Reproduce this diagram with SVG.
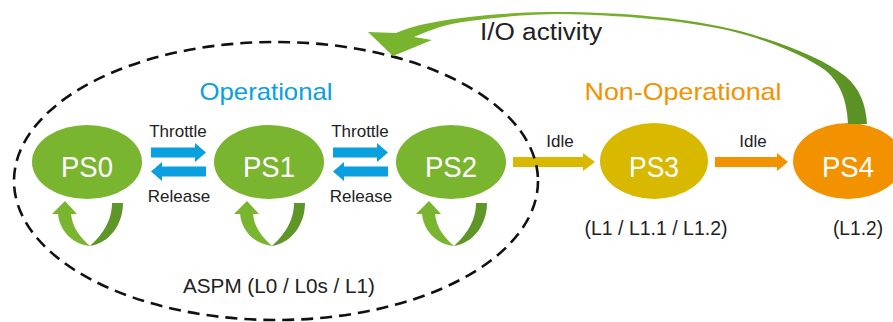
<svg xmlns="http://www.w3.org/2000/svg" xmlns:xlink="http://www.w3.org/1999/xlink" width="893" height="322" viewBox="0 0 893 322">
<style>
text{font-family:"Liberation Sans",Arial,sans-serif}
.ps{fill:#fff;font-size:30px;text-anchor:middle}
.lbl{fill:#222;font-size:17px;text-anchor:middle}
.sub{fill:#222;font-size:21px;text-anchor:middle}
.g{fill:#7ab52f}
.blue{fill:#0aa0e0}
</style>
<defs>
<linearGradient id="ioGrad" gradientUnits="userSpaceOnUse" x1="370" y1="0" x2="870" y2="0">
<stop offset="0" stop-color="#7ab52f"/>
<stop offset="0.6" stop-color="#74ad2c"/>
<stop offset="1" stop-color="#5a8f25"/>
</linearGradient>
<path id="bArrow" d="M0,-5 H44 V-9.5 L55,0 L44,9.5 V5 H0 Z"/>
<g id="loop">
<path d="M-29,213 C-28,230 -15,244 3,246 C-6,238 -15,228 -16,213 Z" fill="#7ab52f"/>
<path d="M-35,214 L-22,201 L-10,214 Z" fill="#7ab52f"/>
<path d="M25,203 L36,203 C36,225 22,243 3,246 C14,236 25,222 25,203 Z" fill="#5e9628"/>
</g>
</defs>

<g id="PS0">
<ellipse cx="87" cy="162" rx="55" ry="37" class="g"/>
<text x="87" y="177" class="ps" textLength="52" lengthAdjust="spacingAndGlyphs">PS0</text>
</g>
<g id="PS1">
<ellipse cx="269" cy="162" rx="55" ry="37" class="g"/>
<text x="269" y="177" class="ps" textLength="52" lengthAdjust="spacingAndGlyphs">PS1</text>
</g>
<g id="PS2">
<ellipse cx="451" cy="162" rx="55" ry="37" class="g"/>
<text x="451" y="177" class="ps" textLength="52" lengthAdjust="spacingAndGlyphs">PS2</text>
</g>
<g id="PS3">
<ellipse cx="654" cy="161" rx="54" ry="38" fill="#d9b800"/>
<text x="654" y="177" class="ps" textLength="50" lengthAdjust="spacingAndGlyphs">PS3</text>
<text x="656" y="235" class="sub" textLength="143" lengthAdjust="spacingAndGlyphs">(L1 / L1.1 / L1.2)</text>
</g>
<g id="PS4">
<ellipse cx="848" cy="161" rx="55" ry="38" fill="#f39200"/>
<text x="848" y="177" class="ps" textLength="52" lengthAdjust="spacingAndGlyphs">PS4</text>
<text x="858" y="235" class="sub" textLength="50" lengthAdjust="spacingAndGlyphs">(L1.2)</text>
</g>

<g id="labels">
<text x="266" y="100" fill="#0aa0e0" font-size="24" text-anchor="middle" textLength="133" lengthAdjust="spacingAndGlyphs">Operational</text>
<text x="683" y="100" fill="#f39200" font-size="24" text-anchor="middle" textLength="197" lengthAdjust="spacingAndGlyphs">Non-Operational</text>
<text x="279" y="293" class="sub" textLength="192" lengthAdjust="spacingAndGlyphs">ASPM (L0 / L0s / L1)</text>
</g>

<g id="connectors">
<use xlink:href="#bArrow" href="#bArrow" class="blue" transform="translate(151,152.5)"/>
<use xlink:href="#bArrow" href="#bArrow" class="blue" transform="translate(206,171.5) scale(-1,1)"/>
<use xlink:href="#bArrow" href="#bArrow" class="blue" transform="translate(333,152.5)"/>
<use xlink:href="#bArrow" href="#bArrow" class="blue" transform="translate(388,171.5) scale(-1,1)"/>
<text x="178" y="137" class="lbl">Throttle</text>
<text x="179" y="202" class="lbl">Release</text>
<text x="360" y="137" class="lbl">Throttle</text>
<text x="361" y="202" class="lbl">Release</text>
<use xlink:href="#loop" href="#loop" transform="translate(87,0)"/>
<use xlink:href="#loop" href="#loop" transform="translate(269,0)"/>
<use xlink:href="#loop" href="#loop" transform="translate(451,0)"/>
<path d="M513,157 H583 V153 L595,162 L583,171 V167 H513 Z" fill="#d9b800"/>
<text x="560" y="147" class="lbl">Idle</text>
<path d="M715,157 H777 V153 L788,162 L777,171 V167 H715 Z" fill="#f39200"/>
<text x="753" y="147" class="lbl">Idle</text>
</g>

<g id="boundary">
<ellipse cx="276" cy="181" rx="262" ry="139" fill="none" stroke="#111" stroke-width="2.6" stroke-dasharray="12 7"/>
</g>

<g id="io-activity">
<path d="M867,124 C866,105 860,88 845,76 C825,60 790,45 740,31 C690,18 620,12 560,12 C510,12 460,16 420,25 C410,28 402,30 396,33 L368,32 L393,56 L432,40 L414,37 C430,30 445,24 470,21 C500,17 530,14 560,14 C620,15 680,20 727,30 C770,40 805,56 825,70 C840,82 847,100 848,124 Z" fill="url(#ioGrad)"/>
<text x="541" y="40" fill="#222" font-size="23" text-anchor="middle" textLength="122" lengthAdjust="spacingAndGlyphs">I/O activity</text>
</g>
</svg>
